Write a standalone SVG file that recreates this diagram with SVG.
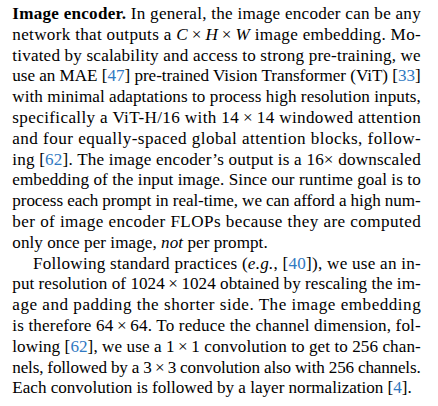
<svg xmlns="http://www.w3.org/2000/svg" width="438" height="406" viewBox="0 0 438 406">
<style>
.t{font-size:17.1px;fill:#000}
.b{font-weight:bold}
.i{font-style:italic}
.c{fill:#3079c2}
</style>
<rect width="438" height="406" fill="#fff"/>
<g id="paragraph1" class="t" font-family="Liberation Serif, Times New Roman, serif">
<text x="12.3" y="18.9" textLength="408.4" lengthAdjust="spacing"><tspan class="b">Image encoder.</tspan> In general, the image encoder can be any</text>
<text x="12.3" y="39.7" textLength="408.4" lengthAdjust="spacing">network that outputs a <tspan class="i">C</tspan>&#8201;×&#8201;<tspan class="i">H</tspan>&#8201;×&#8201;<tspan class="i">W</tspan> image embedding. Mo-</text>
<text x="12.3" y="60.5" textLength="408.4" lengthAdjust="spacing">tivated by scalability and access to strong pre-training, we</text>
<text x="12.3" y="81.3" textLength="408.4" lengthAdjust="spacing">use an MAE [<tspan class="c">47</tspan>] pre-trained Vision Transformer (ViT) [<tspan class="c">33</tspan>]</text>
<text x="12.3" y="102.1" textLength="408.4" lengthAdjust="spacing">with minimal adaptations to process high resolution inputs,</text>
<text x="12.3" y="122.9" textLength="408.4" lengthAdjust="spacing">specifically a ViT-H/16 with 14&#8201;×&#8201;14 windowed attention</text>
<text x="12.3" y="143.7" textLength="408.4" lengthAdjust="spacing">and four equally-spaced global attention blocks, follow-</text>
<text x="12.3" y="164.5" textLength="408.4" lengthAdjust="spacing">ing [<tspan class="c">62</tspan>]. The image encoder’s output is a 16× downscaled</text>
<text x="12.3" y="185.3" textLength="408.4" lengthAdjust="spacing">embedding of the input image. Since our runtime goal is to</text>
<text x="12.3" y="206.1" textLength="408.4" lengthAdjust="spacing">process each prompt in real-time, we can afford a high num-</text>
<text x="12.3" y="226.9" textLength="408.4" lengthAdjust="spacing">ber of image encoder FLOPs because they are computed</text>
<text x="12.3" y="247.7" textLength="255.4" lengthAdjust="spacing">only once per image, <tspan class="i">not</tspan> per prompt.</text>
</g>
<g id="paragraph2" class="t" font-family="Liberation Serif, Times New Roman, serif">
<text x="33" y="268.5" textLength="387.7" lengthAdjust="spacing">Following standard practices (<tspan class="i">e.g.</tspan>, [<tspan class="c">40</tspan>]), we use an in-</text>
<text x="12.3" y="289.3" textLength="408.4" lengthAdjust="spacing">put resolution of 1024&#8201;×&#8201;1024 obtained by rescaling the im-</text>
<text x="12.3" y="310.1" textLength="408.4" lengthAdjust="spacing">age and padding the shorter side. The image embedding</text>
<text x="12.3" y="330.9" textLength="408.4" lengthAdjust="spacing">is therefore 64&#8201;×&#8201;64. To reduce the channel dimension, fol-</text>
<text x="12.3" y="351.7" textLength="408.4" lengthAdjust="spacing">lowing [<tspan class="c">62</tspan>], we use a 1&#8201;×&#8201;1 convolution to get to 256 chan-</text>
<text x="12.3" y="372.5" textLength="408.4" lengthAdjust="spacing">nels, followed by a 3&#8201;×&#8201;3 convolution also with 256 channels.</text>
<text x="12.3" y="393.3" textLength="399.5" lengthAdjust="spacing">Each convolution is followed by a layer normalization [<tspan class="c">4</tspan>].</text>
</g>
</svg>
